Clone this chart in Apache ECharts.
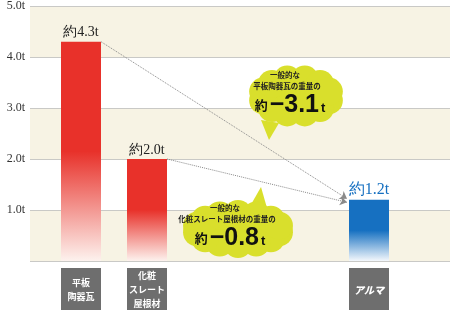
<!DOCTYPE html>
<html>
<head>
<meta charset="utf-8">
<script src="https://cdn.jsdelivr.net/npm/echarts@6/dist/echarts.min.js"></script>
<style>
  html, body { margin: 0; padding: 0; background: #fff; }
  #chart { width: 450px; height: 310px; }
</style>
</head>
<body>
<div id="chart"></div>
<script>
// data
const categories = ['平板\n陶器瓦', '化粧\nスレート\n屋根材', 'アルマ']
const weights = [4.3, 2.0, 1.2]
const yTicks = [0, 1, 2, 3, 4, 5]

// layout: horizontal slot of each bar in axis units (grid is 420px wide, 1 unit = 1px)
const slotX = [51, 117, 339]
const BAR_W = 40

const red = '#e8312a'
const blue = '#1670c1'
const cloudColor = '#d9df2c'
const serif = 'Liberation Serif'

const fade = (c, tail) => new echarts.graphic.LinearGradient(0, 0, 0, 1, [
  { offset: 0, color: c },
  { offset: 0.5, color: c },
  { offset: 1, color: tail }
])

// cloud shaped speech bubble made of overlapping circles
const cloud = (cx, cy, rx, ry, bump, n, tail) => {
  const parts = [{
    type: 'rect',
    z: 100,
    shape: { x: cx - rx + bump * 0.6, y: cy - ry + bump * 0.6, width: (rx - bump * 0.6) * 2, height: (ry - bump * 0.6) * 2, r: ry * 0.6 },
    style: { fill: cloudColor }
  }, {
    type: 'polygon',
    z: 100,
    shape: { points: tail },
    style: { fill: cloudColor }
  }]
  for (let k = 0; k < n; k++) {
    const a = Math.PI * 2 * (k + 0.5) / n
    parts.push({
      type: 'circle',
      z: 100,
      shape: { cx: cx + (rx - bump) * Math.cos(a), cy: cy + (ry - bump) * Math.sin(a), r: bump },
      style: { fill: cloudColor }
    })
  }
  return parts
}

const note = (x, y, line1, line2, diff) => [
  { type: 'text', z: 101, x: x, y: y, style: { text: line1, font: 'bold 7.5px "Noto Sans CJK JP"', fill: '#222', align: 'center', verticalAlign: 'middle' } },
  { type: 'text', z: 101, x: x + 2, y: y + 11, style: { text: line2, font: 'bold 7.5px "Noto Sans CJK JP"', fill: '#222', align: 'center', verticalAlign: 'middle' } },
  {
    type: 'text', z: 101, x: x + 5, y: y + 30,
    style: {
      text: '{a|約}{b|' + diff + '}{c|t}',
      align: 'center', verticalAlign: 'middle',
      rich: {
        a: { fontFamily: 'Noto Sans CJK JP', fontWeight: 'bold', fontSize: 13, fill: '#111', padding: [0, 2, 0, 0] },
        b: { fontFamily: 'Liberation Sans', fontWeight: 'bold', fontSize: 25, fill: '#111' },
        c: { fontFamily: 'Liberation Sans', fontWeight: 'bold', fontSize: 13, fill: '#111', padding: [6, 0, 0, 2] }
      }
    }
  }
]

const minus = (v) => '−' + Math.abs(v).toFixed(1)

const chart = echarts.init(document.getElementById('chart'))

chart.setOption({
  backgroundColor: '#fff',
  animation: false,
  grid: { left: 30, right: 0, top: 6, bottom: 49 },
  xAxis: {
    type: 'value',
    min: 0,
    max: 420,
    show: false
  },
  yAxis: {
    type: 'value',
    min: yTicks[0],
    max: yTicks[yTicks.length - 1],
    interval: 1,
    axisLine: { show: false },
    axisTick: { show: false },
    axisLabel: {
      margin: 5,
      color: '#333',
      fontFamily: serif,
      fontSize: 12,
      formatter: (v) => (v === 0 ? '' : v.toFixed(1) + 't')
    },
    splitLine: { lineStyle: { color: '#c9c9c6', width: 1 } },
    splitArea: { show: true, areaStyle: { color: ['#f7f3e4', '#ffffff'] } }
  },
  series: [{
    type: 'bar',
    barWidth: BAR_W,
    clip: false,
    data: weights.map((w, i) => ({
      value: [slotX[i], w],
      itemStyle: { color: i === 2 ? fade(blue, '#f4f8fc') : fade(red, '#fdf2ee') },
      label: i === 2 ? { color: blue, fontSize: 16 } : {}
    })),
    label: {
      show: true,
      position: 'top',
      distance: 2,
      color: '#222',
      fontFamily: serif,
      fontSize: 14,
      formatter: (p) => '約' + weights[p.dataIndex].toFixed(1) + 't'
    },
    markPoint: {
      symbol: 'rect',
      symbolSize: [BAR_W, 44],
      symbolOffset: [0, 29],
      itemStyle: { color: '#6e6e6e' },
      label: {
        show: true,
        position: 'inside',
        color: '#fff',
        fontFamily: 'Noto Sans CJK JP',
        fontWeight: 'bold',
        fontSize: 9,
        lineHeight: 14
      },
      data: categories.map((c, i) => ({
        coord: [slotX[i], 0],
        value: c,
        label: i === 2
          ? { formatter: c, fontStyle: 'italic', fontSize: 10, fontWeight: 900 }
          : { formatter: c }
      }))
    },
    markLine: {
      silent: true,
      symbol: ['none', 'arrow'],
      symbolSize: 7,
      label: { show: false },
      lineStyle: { color: '#8a8a8a', type: 'dotted', width: 1 },
      data: [
        [{ coord: [slotX[0] + BAR_W / 2, weights[0]] }, { coord: [slotX[2] - BAR_W / 2 - 2, weights[2] + 0.02] }],
        [{ coord: [slotX[1] + BAR_W / 2, weights[1]] }, { coord: [slotX[2] - BAR_W / 2 - 2, weights[2] - 0.05] }]
      ]
    }
  }],
  graphic: {
    elements: cloud(296, 96, 48, 31, 14, 12, [[261, 120], [269, 140], [279, 123]])
      .concat(note(285, 75, '一般的な', '平板陶器瓦の重量の', minus(weights[2] - weights[0])))
      .concat(cloud(238, 229, 56, 29, 14, 14, [[249, 208], [261, 187], [267, 208]]))
      .concat(note(225, 208, '一般的な', '化粧スレート屋根材の重量の', minus(weights[2] - weights[1])))
  }
})
</script>
</body>
</html>
